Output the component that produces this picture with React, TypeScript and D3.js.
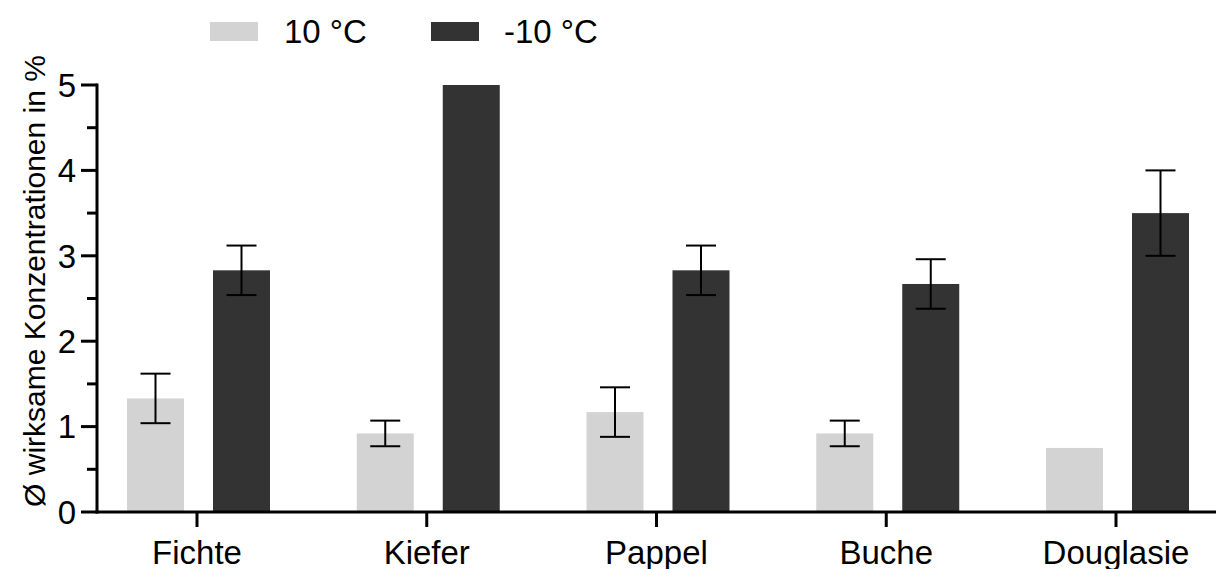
import React from "react";
import * as d3 from "d3";

const categories = ["Fichte", "Kiefer", "Pappel", "Buche", "Douglasie"];
const seriesNames = ["10 °C", "-10 °C"];
const warmValues = [1.33, 0.92, 1.17, 0.92, 0.75];
const warmErrors = [0.29, 0.15, 0.29, 0.15, 0];
const coldValues = [2.83, 5.0, 2.83, 2.67, 3.5];
const coldErrors = [0.29, 0, 0.29, 0.29, 0.5];
const yTicks = [0, 1, 2, 3, 4, 5];
const yMinorTicks = [0.5, 1.5, 2.5, 3.5, 4.5];
const colors = ["#d3d3d3", "#333333"];

const W = 1218;
const H = 569;
const axisX = 97;
const axisY = 512;
const font = "Arial, 'Liberation Sans', sans-serif";

export default function App() {
  const y = d3.scaleLinear().domain([0, 5]).range([axisY, 85]);
  const x = d3.scalePoint<string>().domain(categories).range([197, 1116]);
  const barW = 57;
  const offsets = [-70, 16];
  const series = [
    { vals: warmValues, errs: warmErrors },
    { vals: coldValues, errs: coldErrors },
  ];
  const legendRectX = [210, 431];
  const legendTextX = [284, 504];
  return (
    <svg
      width={W}
      height={H}
      style={{ position: "absolute", left: 0, top: 0, background: "#fff" }}
      fontFamily={font}
    >
      {/* legend */}
      {seriesNames.map((n, i) => (
        <g key={n}>
          <rect x={legendRectX[i]} y={22} width={48} height={19} fill={colors[i]} />
          <text x={legendTextX[i]} y={43} fontSize={33} fill="#000">
            {n}
          </text>
        </g>
      ))}
      {/* bars */}
      {series.map((s, si) =>
        categories.map((c, ci) => {
          const cx = (x(c) as number) + offsets[si];
          const v = s.vals[ci];
          return (
            <rect
              key={`${si}-${c}`}
              x={cx}
              y={y(v)}
              width={barW}
              height={axisY - y(v)}
              fill={colors[si]}
            />
          );
        })
      )}
      {/* error bars */}
      {series.map((s, si) =>
        categories.map((c, ci) => {
          const e = s.errs[ci];
          if (!e) return null;
          const mx = (x(c) as number) + offsets[si] + barW / 2;
          const v = s.vals[ci];
          const y1 = y(v + e);
          const y2 = y(v - e);
          return (
            <g key={`e${si}-${c}`} stroke="#000" strokeWidth={2}>
              <line x1={mx} x2={mx} y1={y1} y2={y2} />
              <line x1={mx - 15} x2={mx + 15} y1={y1} y2={y1} />
              <line x1={mx - 15} x2={mx + 15} y1={y2} y2={y2} />
            </g>
          );
        })
      )}
      {/* y axis */}
      <line x1={axisX} x2={axisX} y1={y(5) - 1.5} y2={axisY + 1.5} stroke="#000" strokeWidth={3} />
      {yTicks.map((t) => (
        <g key={t}>
          <line x1={axisX - 16} x2={axisX} y1={y(t)} y2={y(t)} stroke="#000" strokeWidth={3} />
          <text x={axisX - 21} y={y(t)} dy="0.36em" textAnchor="end" fontSize={33} fill="#000">
            {t}
          </text>
        </g>
      ))}
      {yMinorTicks.map((t) => (
        <line key={t} x1={axisX - 10} x2={axisX} y1={y(t)} y2={y(t)} stroke="#000" strokeWidth={3} />
      ))}
      {/* x axis */}
      <line x1={axisX - 1.5} x2={1216} y1={axisY} y2={axisY} stroke="#000" strokeWidth={3} />
      {categories.map((c) => (
        <g key={c}>
          <line x1={x(c)} x2={x(c)} y1={axisY} y2={axisY + 15} stroke="#000" strokeWidth={3} />
          <text x={x(c)} y={564} textAnchor="middle" fontSize={33} fill="#000">
            {c}
          </text>
        </g>
      ))}
      {/* y title */}
      <text
        transform={`translate(45, 281) rotate(-90)`}
        textAnchor="middle"
        fontSize={30}
        fill="#000"
      >
        Ø wirksame Konzentrationen in %
      </text>
    </svg>
  );
}
